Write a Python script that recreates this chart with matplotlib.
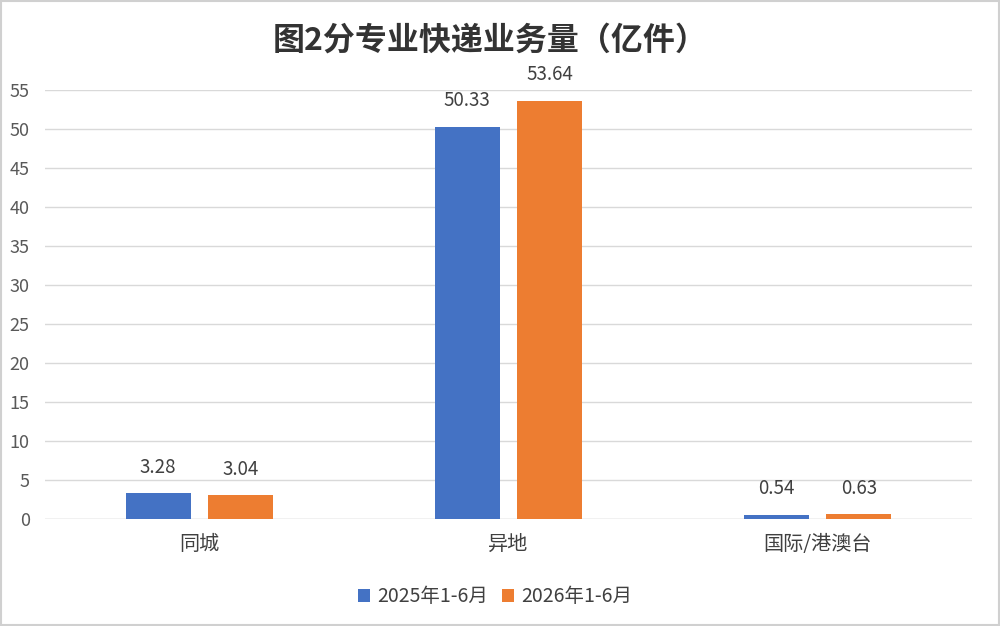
import matplotlib
matplotlib.use("Agg")
import matplotlib.pyplot as plt
import numpy as np

plt.rcParams['font.family'] = ['Noto Sans CJK SC', 'DejaVu Sans']

categories = ['同城', '异地', '国际/港澳台']
series_names = ['2025年1-6月', '2026年1-6月']
values_2025 = [3.28, 50.33, 0.54]
values_2026 = [3.04, 53.64, 0.63]
yticks = [0, 5, 10, 15, 20, 25, 30, 35, 40, 45, 50, 55]

colors = ['#4472C4', '#ED7D31']
text_color = '#595959'

fig = plt.figure(figsize=(10, 6.26), dpi=100)
ax = fig.add_axes([0.045, 0.171, 0.927, 0.685])

x = np.arange(len(categories))
width = 0.21
offset = 0.134
for vals, name, color, off in [(values_2025, series_names[0], colors[0], -offset),
                               (values_2026, series_names[1], colors[1], offset)]:
    bars = ax.bar(x + off, vals, width, color=color, label=name, zorder=3)
    for b, v in zip(bars, vals):
        ax.annotate(f'{v:.2f}', (b.get_x() + b.get_width() / 2, v),
                    xytext=(0, 11), textcoords='offset points',
                    ha='center', va='bottom', fontsize=13.5, color='#404040',
                    annotation_clip=False)

ax.set_xlim(-0.5, len(categories) - 0.5)
ax.set_ylim(0, 55)
ax.set_yticks(yticks)
ax.set_xticks(x)
ax.set_xticklabels(categories, fontsize=14.5, color='#404040')
ax.tick_params(axis='y', labelsize=13, labelcolor=text_color, length=0, pad=11)
ax.tick_params(axis='x', length=0, pad=11)
ax.grid(axis='y', color='#D9D9D9', linewidth=1, zorder=0)
for s in ax.spines.values():
    s.set_visible(False)
ax.axhline(0, color='#D9D9D9', linewidth=1, zorder=1)

fig.text(0.49, 0.935, '图2分专业快递业务量（亿件）', ha='center', va='center',
         fontsize=23, fontweight='bold', color='#333333')

handles, labels = ax.get_legend_handles_labels()
fig.legend(handles, labels, loc='center', bbox_to_anchor=(0.495, 0.047), ncol=2,
           frameon=False, fontsize=14, handlelength=0.65, handleheight=0.65,
           handletextpad=0.35, columnspacing=0.7, labelcolor='#404040')

fig.patches.append(plt.Rectangle((0.001, 0.001), 0.998, 0.997, transform=fig.transFigure,
                                 fill=False, edgecolor='#D0D0D0', linewidth=1.5))

fig.savefig('out.png', dpi=100)
